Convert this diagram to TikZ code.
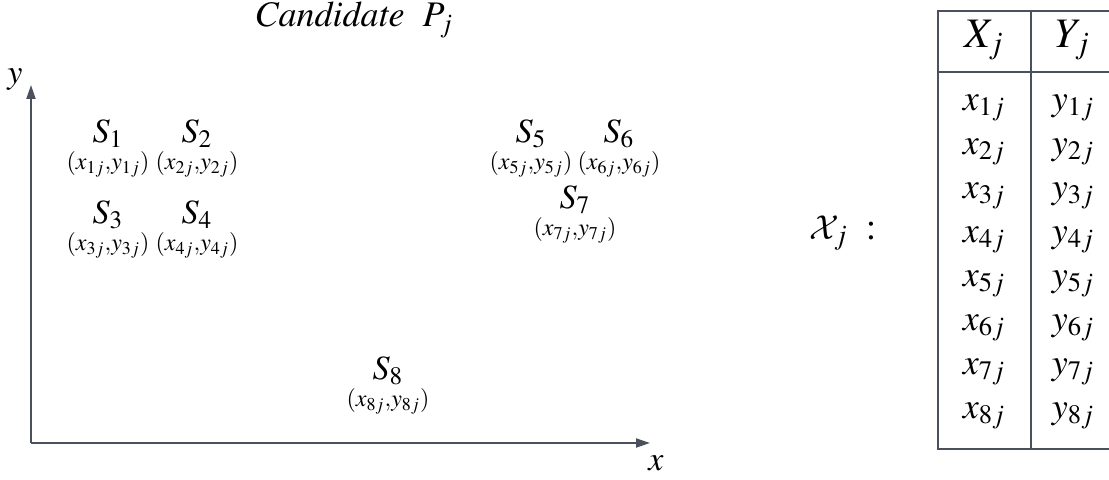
\documentclass[tikz,border=0pt]{standalone}
\usepackage{mathptmx}
\usepackage[no-math]{fontspec}
\setmainfont{Liberation Serif}
\usetikzlibrary{arrows.meta}
\DeclareMathAlphabet{\mathcmcal}{OMS}{cmsy}{m}{n}
\definecolor{axisgray}{HTML}{4A505C}

\begin{document}
\begin{tikzpicture}[x=0.5pt, y=-0.5pt,
  axis/.style={draw=axisgray, line width=1pt, -{Triangle[length=7pt,width=4.5pt]}},
  site/.style={font=\fontsize{17}{19}\selectfont, inner sep=0pt},
  coordlabel/.style={font=\fontsize{12}{14}\selectfont, inner sep=0pt},
  cell/.style={font=\fontsize{18}{20}\selectfont, inner sep=0pt},
  head/.style={font=\fontsize{21}{23}\selectfont, inner sep=0pt},
  grid/.style={draw=axisgray, line width=0.75pt}]

  \useasboundingbox (0,0) rectangle (1109,480);

  % -- Title --
  \node[font=\fontsize{18}{20}\selectfont] (title) at (354,20) {$\mathit{Candidate}\ \ P_j$};

  % -- Axes --
  \coordinate (O) at (31,443);
  \coordinate (xend) at (650,443);
  \coordinate (yend) at (31,85);
  \draw[axis] (O) -- (xend);
  \draw[axis] (O) -- (yend);
  \node[font=\fontsize{17}{19}\selectfont] (xlab) at (656,463) {$x$};
  \node[font=\fontsize{17}{19}\selectfont] (ylab) at (15,80) {$y$};

  % -- Sites with their coordinates --
  \foreach \k/\px/\py in {1/108/134, 2/197/134, 3/108/215, 4/197/215,
                          5/531/134, 6/619/134, 7/575/200, 8/388/371} {
    \node[site] (s\k) at (\px,\py) {$S_{\k}$};
    \node[coordlabel] (p\k) at (\px,\py+30) {$(x_{\k j}{,}y_{\k j})$};
  }

  % -- Table of coordinates --
  \node[font=\fontsize{19}{21}\selectfont] (setX) at (843,233) {$\mathcmcal{X}_j\ :$};
  \draw[grid] (1109,11) -- (938,11) -- (938,449) -- (1109,449);
  \draw[grid] (938,72) -- (1109,72);
  \draw[grid] (1031,11) -- (1031,449);
  \node[head] (hX) at (984,40) {$X_j$};
  \node[head] (hY) at (1073,40) {$Y_j$};
  \foreach \k in {1,...,8} {
    \node[cell] (x\k) at (984,64+44*\k) {$x_{\k j}$};
    \node[cell] (y\k) at (1073,64+44*\k) {$y_{\k j}$};
  }

\end{tikzpicture}
\end{document}
